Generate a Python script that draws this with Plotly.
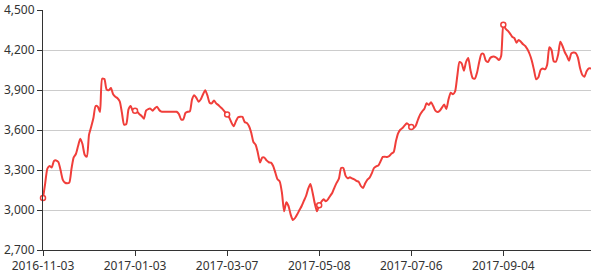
import plotly.graph_objects as go

# Axis tick labels (every 42nd trading day)
tick_labels = ["2016-11-03", "2017-01-03", "2017-03-07", "2017-05-08", "2017-07-06", "2017-09-04"]
label_step = 42

# Closing prices, split by labelled period
period_1 = [3090, 3200, 3310, 3330, 3318, 3368, 3372, 3360, 3300, 3228,
            3205, 3200, 3205, 3310, 3395, 3420, 3480, 3535, 3495, 3415,
            3400, 3565, 3625, 3690, 3780, 3775, 3735, 3985, 3982, 3905,
            3898, 3915, 3868, 3850, 3838, 3815, 3730, 3640, 3645, 3755,
            3780, 3742]
period_2 = [3745, 3737, 3718, 3705, 3685, 3745, 3757, 3760, 3745, 3762,
            3775, 3750, 3738, 3737, 3737, 3737, 3737, 3737, 3737, 3737,
            3720, 3680, 3680, 3728, 3737, 3740, 3830, 3860, 3840, 3812,
            3830, 3868, 3898, 3860, 3805, 3800, 3822, 3800, 3787, 3770,
            3755, 3735]
period_3 = [3717, 3692, 3655, 3628, 3665, 3695, 3700, 3698, 3660, 3652,
            3628, 3580, 3510, 3490, 3430, 3356, 3393, 3393, 3372, 3358,
            3355, 3330, 3280, 3230, 3213, 3130, 2990, 3058, 3030, 2965,
            2925, 2940, 2968, 3000, 3030, 3068, 3105, 3160, 3195, 3130,
            3048, 2990]
period_4 = [3035, 3062, 3080, 3066, 3080, 3105, 3130, 3170, 3205, 3235,
            3315, 3315, 3258, 3238, 3245, 3237, 3230, 3218, 3212, 3180,
            3165, 3200, 3228, 3242, 3275, 3315, 3328, 3333, 3365, 3398,
            3400, 3397, 3405, 3423, 3435, 3515, 3575, 3602, 3615, 3635,
            3650, 3638]
period_5 = [3622, 3615, 3630, 3675, 3715, 3740, 3760, 3800, 3788, 3808,
            3780, 3745, 3735, 3745, 3768, 3792, 3757, 3830, 3880, 3868,
            3890, 4005, 4110, 4100, 4045, 4110, 4140, 4050, 3990, 3985,
            4030, 4110, 4170, 4170, 4120, 4110, 4140, 4150, 4150, 4140,
            4125, 4155]
period_6 = [4390, 4360, 4345, 4325, 4300, 4290, 4255, 4275, 4262, 4243,
            4230, 4205, 4170, 4120, 4050, 3980, 3995, 4050, 4062, 4055,
            4090, 4220, 4200, 4115, 4112, 4165, 4262, 4230, 4185, 4155,
            4120, 4175, 4182, 4178, 4145, 4065, 4015, 4000, 4040, 4062,
            4062]

prices = period_1 + period_2 + period_3 + period_4 + period_5 + period_6
idx = list(range(len(prices)))
tick_idx = [k * label_step for k in range(len(tick_labels))]

RED = "#f03e3a"
AXIS = "#333333"
FONT = dict(family="Noto Sans, Open Sans, sans-serif", size=12, color="#333333")

fig = go.Figure()
fig.add_trace(go.Scatter(
    x=idx, y=prices, mode="lines",
    line=dict(color=RED, width=2, shape="spline", smoothing=0.6),
    hoverinfo="x+y", showlegend=False,
))
fig.add_trace(go.Scatter(
    x=tick_idx, y=[prices[i] for i in tick_idx], mode="markers",
    marker=dict(size=5, color="white", line=dict(color=RED, width=1.5)),
    showlegend=False, hoverinfo="skip", cliponaxis=False,
))

fig.update_layout(
    width=598, height=276,
    margin=dict(l=43, r=7, t=10, b=26),
    paper_bgcolor="white", plot_bgcolor="white",
    font=FONT,
)
fig.update_xaxes(
    range=[0, len(prices) - 1], automargin=False,
    tickmode="array", tickvals=tick_idx, ticktext=tick_labels,
    showgrid=False, zeroline=False,
    showline=True, linecolor=AXIS, linewidth=1,
    ticks="outside", ticklen=5, tickcolor=AXIS, tickwidth=1,
    tickfont=FONT,
)
fig.update_yaxes(
    range=[2700, 4500], dtick=300, tick0=2700, tickformat=",", automargin=False,
    showgrid=True, gridcolor="#cccccc", gridwidth=1, zeroline=False,
    showline=True, linecolor=AXIS, linewidth=1,
    ticks="outside", ticklen=5, tickcolor=AXIS, tickwidth=1,
    tickfont=FONT,
)

fig.write_html("out.html")
